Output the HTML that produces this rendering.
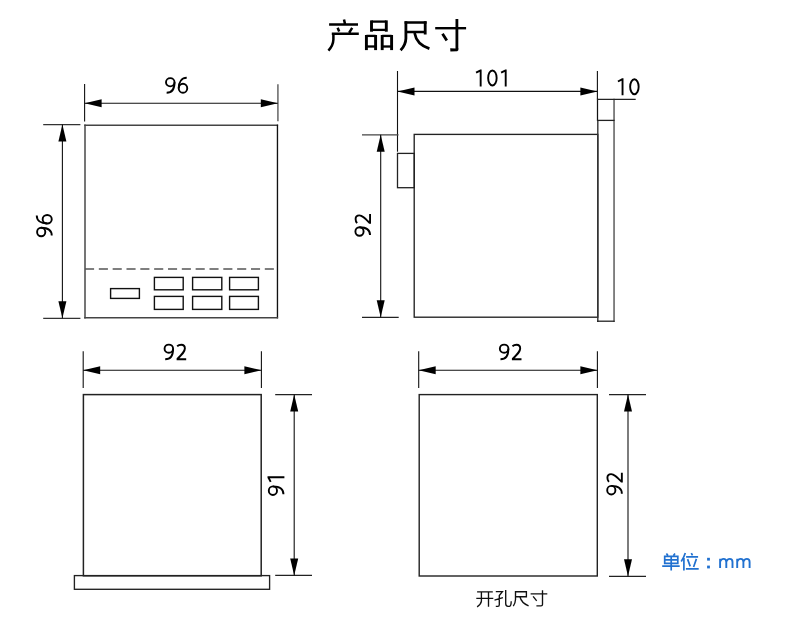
<!DOCTYPE html>
<html><head><meta charset="utf-8"><style>
html,body{margin:0;padding:0;background:#fff;width:790px;height:641px;overflow:hidden}
svg{display:block}
text{font-family:"Liberation Sans",sans-serif;fill:#000;stroke:#fff;stroke-width:0.1}
svg{will-change:transform}
</style></head><body>
<svg width="790" height="641" viewBox="0 0 790 641">
<line x1="84.6" y1="84" x2="84.6" y2="121.4" stroke="#111" stroke-width="1.1"/>
<line x1="277.9" y1="84.2" x2="277.9" y2="121.3" stroke="#777" stroke-width="1.7"/>
<line x1="84.6" y1="103.3" x2="277.8" y2="103.3" stroke="#111" stroke-width="1.1"/><polygon points="84.6,103.3 101.6,99.3 101.6,107.3" fill="#000"/><polygon points="277.8,103.3 260.8,99.3 260.8,107.3" fill="#000"/>
<line x1="85" y1="124.5" x2="85" y2="318.4" stroke="#666" stroke-width="1.8"/>
<line x1="84.2" y1="125.3" x2="278.1" y2="125.3" stroke="#444" stroke-width="1.6"/>
<line x1="277.46" y1="124.6" x2="277.46" y2="318.4" stroke="#111" stroke-width="1.35"/>
<line x1="84.2" y1="317.7" x2="278.1" y2="317.7" stroke="#444" stroke-width="1.6"/>
<line x1="85" y1="269" x2="277" y2="269" stroke="#555" stroke-width="1.6" stroke-dasharray="9.1,4.73"/>
<rect x="110.6" y="288.6" width="28.80" height="9.80" fill="none" stroke="#111" stroke-width="1.4"/>
<rect x="154.4" y="277.4" width="28.80" height="12.40" fill="none" stroke="#111" stroke-width="1.4"/>
<rect x="154.4" y="296.4" width="28.80" height="13.00" fill="none" stroke="#111" stroke-width="1.4"/>
<rect x="192.6" y="277.4" width="29.20" height="12.40" fill="none" stroke="#111" stroke-width="1.4"/>
<rect x="192.6" y="296.4" width="29.20" height="13.00" fill="none" stroke="#111" stroke-width="1.4"/>
<rect x="229.6" y="277.4" width="28.80" height="12.40" fill="none" stroke="#111" stroke-width="1.4"/>
<rect x="229.6" y="296.4" width="28.80" height="13.00" fill="none" stroke="#111" stroke-width="1.4"/>
<line x1="43.2" y1="124.6" x2="80.4" y2="124.6" stroke="#333" stroke-width="1.3"/>
<line x1="43.2" y1="318.3" x2="80.4" y2="318.3" stroke="#333" stroke-width="1.3"/>
<line x1="62.4" y1="124.6" x2="62.4" y2="318.3" stroke="#111" stroke-width="1.1"/><polygon points="62.4,124.6 58.4,141.6 66.4,141.6" fill="#000"/><polygon points="62.4,318.3 58.4,301.3 66.4,301.3" fill="#000"/>
<g fill="none" stroke="#000" stroke-width="1.9"><g transform="translate(165.04,93.75)"><ellipse cx="5.23" cy="-11.5" rx="4.27" ry="4.1"/><path d="M9.5,-11.5 C9.5,-4.6 6.5,-0.95 1.6,-0.95"/></g><g transform="translate(177.76,93.75)"><ellipse cx="5.22" cy="-5.5" rx="4.27" ry="4.56"/><path d="M0.95,-5.5 C0.95,-12.3 4.2,-15.95 8.95,-15.95"/></g></g>
<g fill="none" stroke="#000" stroke-width="1.9" transform="translate(52.7,237.2) rotate(-90)"><g transform="translate(0,0)"><ellipse cx="5.23" cy="-11.5" rx="4.27" ry="4.1"/><path d="M9.5,-11.5 C9.5,-4.6 6.5,-0.95 1.6,-0.95"/></g><g transform="translate(12.72,0)"><ellipse cx="5.22" cy="-5.5" rx="4.27" ry="4.56"/><path d="M0.95,-5.5 C0.95,-12.3 4.2,-15.95 8.95,-15.95"/></g></g>
<line x1="397.5" y1="71" x2="397.5" y2="151.7" stroke="#111" stroke-width="1.1"/>
<line x1="597.4" y1="71" x2="597.4" y2="99.5" stroke="#111" stroke-width="1.1"/>
<line x1="397.5" y1="91.4" x2="597.4" y2="91.4" stroke="#111" stroke-width="1.1"/><polygon points="397.5,91.4 414.5,87.4 414.5,95.4" fill="#000"/><polygon points="597.4,91.4 580.4,87.4 580.4,95.4" fill="#000"/>
<rect x="414.2" y="134.4" width="183.60" height="182.80" fill="none" stroke="#222" stroke-width="1.35"/>
<rect x="397.5" y="153.4" width="16.80" height="34.30" fill="none" stroke="#222" stroke-width="1.3"/>
<line x1="597.5" y1="98.7" x2="597.5" y2="121" stroke="#111" stroke-width="1.25"/>
<line x1="597.8" y1="120.4" x2="597.8" y2="321.9" stroke="#333" stroke-width="1.4"/>
<line x1="614.05" y1="98.7" x2="614.05" y2="321.9" stroke="#666" stroke-width="1.6"/>
<line x1="597" y1="99.3" x2="635.7" y2="99.3" stroke="#222" stroke-width="1.3"/>
<line x1="597" y1="120.4" x2="614.6" y2="120.4" stroke="#222" stroke-width="1.3"/>
<line x1="597" y1="321.2" x2="614.6" y2="321.2" stroke="#222" stroke-width="1.3"/>
<line x1="362" y1="134.8" x2="398.5" y2="134.8" stroke="#444" stroke-width="1.3"/>
<line x1="362" y1="317.3" x2="398.7" y2="317.3" stroke="#222" stroke-width="1.3"/>
<line x1="380.7" y1="134.8" x2="380.7" y2="317.3" stroke="#111" stroke-width="1.1"/><polygon points="380.7,134.8 376.7,151.8 384.7,151.8" fill="#000"/><polygon points="380.7,317.3 376.7,300.3 384.7,300.3" fill="#000"/>
<g fill="none" stroke="#000" stroke-width="1.9"><g transform="translate(475.46,86.4)"><path d="M0.6,-13.7 L5.2,-16.1 M5.2,-16.9 V0"/></g><g transform="translate(487.2,86.4)"><ellipse cx="5.2" cy="-8.45" rx="4.25" ry="7.5"/></g><g transform="translate(500.5,86.4)"><path d="M0.6,-13.7 L5.2,-16.1 M5.2,-16.9 V0"/></g></g>
<g fill="none" stroke="#000" stroke-width="1.9"><g transform="translate(617.34,95.2)"><path d="M0.6,-13.7 L5.2,-16.1 M5.2,-16.9 V0"/></g><g transform="translate(629.2,95.2)"><ellipse cx="5.2" cy="-8.45" rx="4.25" ry="7.5"/></g></g>
<g fill="none" stroke="#000" stroke-width="1.9" transform="translate(371,236.7) rotate(-90)"><g transform="translate(0,0)"><ellipse cx="5.23" cy="-11.5" rx="4.27" ry="4.1"/><path d="M9.5,-11.5 C9.5,-4.6 6.5,-0.95 1.6,-0.95"/></g><g transform="translate(13,0)"><path d="M0.55,-13.9 C1.8,-15 3.2,-15.4 4.7,-15.4 C6.9,-15.4 8.28,-13.9 8.28,-11.7 C8.28,-8.8 6,-6.5 0.95,-1.5 L0.95,-0.95 H9.6"/></g></g>
<line x1="83.2" y1="351.3" x2="83.2" y2="388" stroke="#111" stroke-width="1.1"/>
<line x1="261.4" y1="351.3" x2="261.4" y2="388" stroke="#111" stroke-width="1.1"/>
<line x1="83.2" y1="370.2" x2="261.4" y2="370.2" stroke="#111" stroke-width="1.1"/><polygon points="83.2,370.2 100.2,366.2 100.2,374.2" fill="#000"/><polygon points="261.4,370.2 244.39999999999998,366.2 244.39999999999998,374.2" fill="#000"/>
<rect x="83.4" y="394.6" width="177.80" height="181.20" fill="none" stroke="#222" stroke-width="1.5"/>
<rect x="74.4" y="575.6" width="195.20" height="13.70" fill="none" stroke="#222" stroke-width="1.35"/>
<line x1="275.2" y1="394.6" x2="312" y2="394.6" stroke="#222" stroke-width="1.3"/>
<line x1="275.2" y1="575.4" x2="312" y2="575.4" stroke="#222" stroke-width="1.3"/>
<line x1="294.2" y1="394.6" x2="294.2" y2="575.4" stroke="#111" stroke-width="1.1"/><polygon points="294.2,394.6 290.2,411.6 298.2,411.6" fill="#000"/><polygon points="294.2,575.4 290.2,558.4 298.2,558.4" fill="#000"/>
<g fill="none" stroke="#000" stroke-width="1.9"><g transform="translate(163.6,360.2)"><ellipse cx="5.23" cy="-11.5" rx="4.27" ry="4.1"/><path d="M9.5,-11.5 C9.5,-4.6 6.5,-0.95 1.6,-0.95"/></g><g transform="translate(176.6,360.2)"><path d="M0.55,-13.9 C1.8,-15 3.2,-15.4 4.7,-15.4 C6.9,-15.4 8.28,-13.9 8.28,-11.7 C8.28,-8.8 6,-6.5 0.95,-1.5 L0.95,-0.95 H9.6"/></g></g>
<g fill="none" stroke="#000" stroke-width="1.9" transform="translate(284.4,495.9) rotate(-90)"><g transform="translate(0,0)"><ellipse cx="5.23" cy="-11.5" rx="4.27" ry="4.1"/><path d="M9.5,-11.5 C9.5,-4.6 6.5,-0.95 1.6,-0.95"/></g><g transform="translate(13.4,0)"><path d="M0.6,-13.7 L5.2,-16.1 M5.2,-16.9 V0"/></g></g>
<line x1="418.7" y1="351.3" x2="418.7" y2="388" stroke="#111" stroke-width="1.1"/>
<line x1="597.4" y1="351.3" x2="597.4" y2="388" stroke="#111" stroke-width="1.1"/>
<line x1="418.7" y1="370.2" x2="597.4" y2="370.2" stroke="#111" stroke-width="1.1"/><polygon points="418.7,370.2 435.7,366.2 435.7,374.2" fill="#000"/><polygon points="597.4,370.2 580.4,366.2 580.4,374.2" fill="#000"/>
<rect x="419.2" y="394.6" width="178.10" height="181.40" fill="none" stroke="#222" stroke-width="1.4"/>
<line x1="609" y1="394.6" x2="646" y2="394.6" stroke="#222" stroke-width="1.3"/>
<line x1="609" y1="576.3" x2="646" y2="576.3" stroke="#222" stroke-width="1.3"/>
<line x1="628" y1="394.6" x2="628" y2="576.3" stroke="#111" stroke-width="1.1"/><polygon points="628,394.6 624,411.6 632,411.6" fill="#000"/><polygon points="628,576.3 624,559.3 632,559.3" fill="#000"/>
<g fill="none" stroke="#000" stroke-width="1.9"><g transform="translate(498.9,360.2)"><ellipse cx="5.23" cy="-11.5" rx="4.27" ry="4.1"/><path d="M9.5,-11.5 C9.5,-4.6 6.5,-0.95 1.6,-0.95"/></g><g transform="translate(511.9,360.2)"><path d="M0.55,-13.9 C1.8,-15 3.2,-15.4 4.7,-15.4 C6.9,-15.4 8.28,-13.9 8.28,-11.7 C8.28,-8.8 6,-6.5 0.95,-1.5 L0.95,-0.95 H9.6"/></g></g>
<g fill="none" stroke="#000" stroke-width="1.9" transform="translate(622.8,495.4) rotate(-90)"><g transform="translate(0,0)"><ellipse cx="5.23" cy="-11.5" rx="4.27" ry="4.1"/><path d="M9.5,-11.5 C9.5,-4.6 6.5,-0.95 1.6,-0.95"/></g><g transform="translate(13,0)"><path d="M0.55,-13.9 C1.8,-15 3.2,-15.4 4.7,-15.4 C6.9,-15.4 8.28,-13.9 8.28,-11.7 C8.28,-8.8 6,-6.5 0.95,-1.5 L0.95,-0.95 H9.6"/></g></g>
<g fill="none" stroke="#000" stroke-width="2.5" stroke-linecap="butt" stroke-linejoin="miter"><path d="M344,19.4 L344.9,23.5 M329.1,24.6 H358 M337.6,27.8 L339.2,31.5 M352.2,27.9 L349.2,32.6 M331.8,33.7 H358.8 M333.4,32.5 V39.5 Q333.2,45.5 328.4,50.6"/></g><g fill="#000" stroke="none"><rect x="370.05" y="20.4" width="2.9" height="11.30"/><rect x="384.85" y="20.4" width="2.9" height="11.30"/><rect x="371.50" y="20.45" width="14.80" height="2.3"/><rect x="371.50" y="28.75" width="14.80" height="2.3"/><rect x="364.95" y="35.0" width="2.9" height="15.10"/><rect x="374.15" y="35.0" width="2.9" height="15.10"/><rect x="366.40" y="34.75" width="9.20" height="2.3"/><rect x="366.40" y="45.35" width="9.20" height="2.3"/><rect x="380.75" y="35.0" width="2.9" height="15.10"/><rect x="390.15" y="35.0" width="2.9" height="15.10"/><rect x="382.20" y="34.75" width="9.40" height="2.3"/><rect x="382.20" y="45.35" width="9.40" height="2.3"/></g><g fill="none" stroke="#000" stroke-width="2.5"><path stroke-width="2.4" d="M404.6,22.5 H426.6 M406.8,32 H425.2"/><path stroke-width="2.8" d="M425.2,21.3 V34.6 M405.9,21.3 V38.5 Q405.7,45 400.6,50.3"/><path stroke-width="2.7" d="M414.6,33 Q416.5,44.5 429.4,48.6"/><path stroke-width="2.4" d="M435.2,28.2 H466.1"/><path stroke-width="2.8" d="M456.9,18.9 V49.5 M442.5,33.7 L446.8,40.6"/><polygon fill="#000" stroke="none" points="458.3,48.2 458.3,50.2 457.2,51.2 450.4,51.4 450.2,48.3 455.5,48.5"/></g>
<g fill="none" stroke="#111" stroke-width="1.35"><path d="M477.1,591.8 H492.8 M476.3,598.4 H493.3 M481.4,591.8 V601.2 Q481,604.5 477.1,606.8 M488.5,591.8 V606.8"/><path d="M495.8,591.6 H502.4 L499.3,595.6 V604.7 Q499.3,606.3 497.8,606.3 H495.8 M494.5,600.2 L502.9,597.7 M505.7,590.1 V603.5 Q505.7,606.3 508,606.3 H509.5 Q511.2,606 511.2,601.2"/><path d="M515.5,591.7 H526.4 V596.7 H515.5 M515.5,591.1 V599.5 Q515.3,603.5 513.3,606.2 M520,597 Q521.5,603 528.6,605.9"/><path d="M530.6,593.9 H547.3 M542.5,590.3 V604.6 Q542.5,605.9 541,605.9 H536.4 M533.1,596.4 L536.7,600.9"/></g>
<g fill="none" stroke="#2171d0" stroke-width="1.7"><path d="M666.4,553.4 L667.9,555.4 M675,553.4 L673.5,555.4 M664.7,556.4 H677.8 V563.3 H664.7 Z M664.7,559.8 H677.8 M671.2,556.4 V570.5 M662.2,566.2 H679.7"/><path d="M685.3,553.1 Q683.5,558.5 681.2,561.6 M683.9,558 V570.5 M691.3,553.2 L692.5,555.4 M686.1,556.9 H698.1 M687.6,559.1 L690.2,566.4 M696.4,558.9 L693.6,567 M685.9,568.9 H698.7"/></g><rect x="707.1" y="557.8" width="2.8" height="2.8" fill="#2171d0"/><rect x="707.1" y="565.6" width="2.8" height="2.8" fill="#2171d0"/><g fill="none" stroke="#2171d0" stroke-width="1.9"><path transform="translate(720.1,568)" d="M0,0 V-9.2 M0,-6.3 C0.9,-8.4 2.1,-9.15 3.4,-9.15 C5.3,-9.15 6.2,-7.9 6.2,-6 V0 M6.2,-6.3 C7.1,-8.4 8.3,-9.15 9.6,-9.15 C11.5,-9.15 12.4,-7.9 12.4,-6 V0"/><path transform="translate(737.2,568)" d="M0,0 V-9.2 M0,-6.3 C0.9,-8.4 2.1,-9.15 3.4,-9.15 C5.3,-9.15 6.2,-7.9 6.2,-6 V0 M6.2,-6.3 C7.1,-8.4 8.3,-9.15 9.6,-9.15 C11.5,-9.15 12.4,-7.9 12.4,-6 V0"/></g>
</svg>
</body></html>
